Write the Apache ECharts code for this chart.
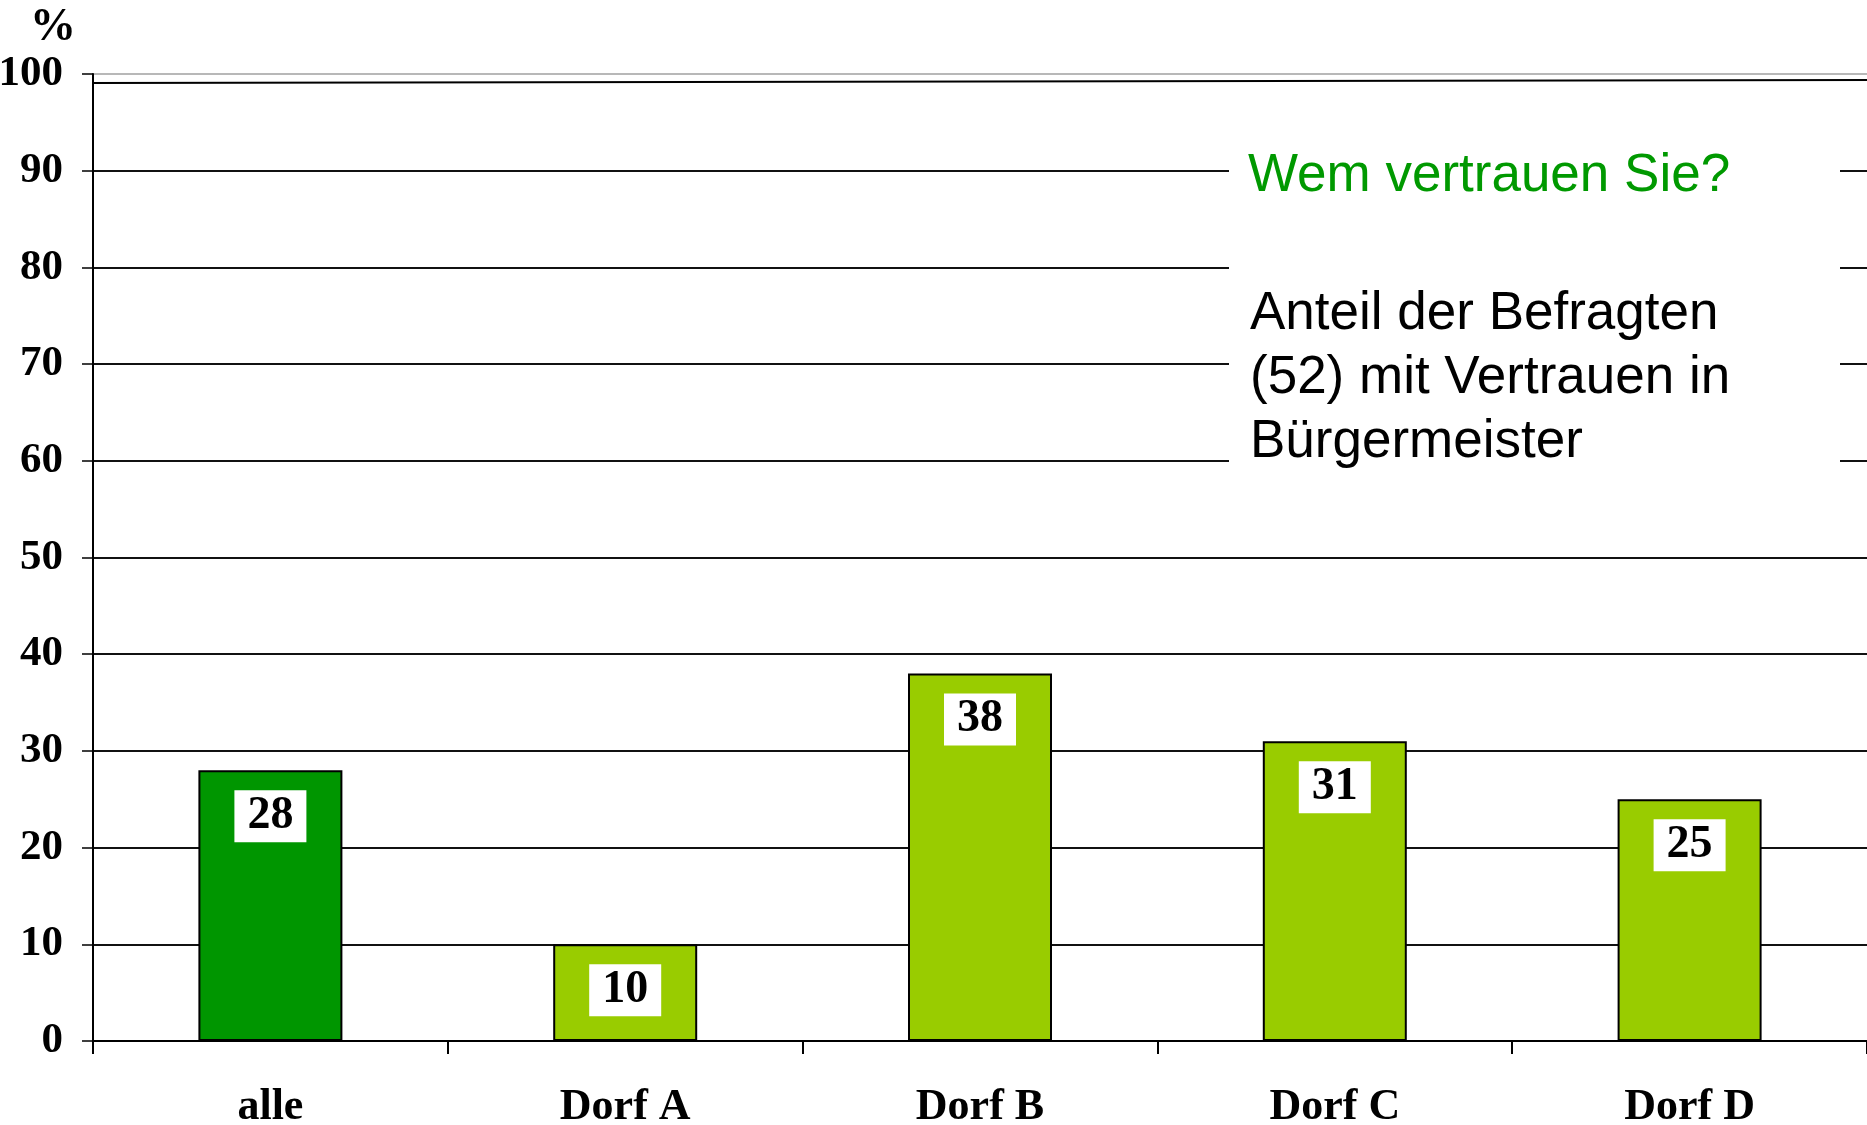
<!DOCTYPE html>
<html>
<head>
<meta charset="utf-8">
<script src="https://cdn.jsdelivr.net/npm/echarts@6/dist/echarts.min.js"></script>
<style>
  html, body { margin: 0; padding: 0; background: #fff; }
  #chart { width: 1867px; height: 1125px; }
</style>
</head>
<body>
<div id="chart"></div>
<script>
// Daten
var categories = ['alle', 'Dorf A', 'Dorf B', 'Dorf C', 'Dorf D'];
var values = [28, 10, 38, 31, 25];
var barColors = ['#009600', '#99cc00', '#99cc00', '#99cc00', '#99cc00'];
var yTicks = [0, 10, 20, 30, 40, 50, 60, 70, 80, 90, 100];

var chart = echarts.init(document.getElementById('chart'));

// Gitterlinien: oberste Linie grau
var gridColors = yTicks.map(function (t) { return t === 100 ? '#b8b8b8' : '#111'; });

var option = {
    animation: false,
    title: {
        text: '%',
        left: 25,
        top: 0,
        textStyle: { fontFamily: 'Liberation Serif', fontWeight: 'bold', fontSize: 46, color: '#000' }
    },
    grid: { left: 93, right: 0, top: 74, bottom: 84, outerBoundsMode: 'none', containLabel: false },
    xAxis: {
        type: 'category',
        data: categories,
        axisLine: { lineStyle: { color: '#000', width: 2 } },
        axisTick: { show: true, length: 13, lineStyle: { color: '#000', width: 2 } },
        axisLabel: {
            margin: 45,
            fontFamily: 'Liberation Serif', fontWeight: 'bold', fontSize: 44, color: '#000'
        }
    },
    yAxis: {
        type: 'value',
        min: 0,
        max: 100,
        interval: 10,
        axisLine: { show: true, lineStyle: { color: '#000', width: 2 } },
        axisTick: { show: true, length: 11, lineStyle: { color: '#000', width: 1.5 } },
        axisLabel: {
            margin: 30,
            fontFamily: 'Liberation Serif', fontWeight: 'bold', fontSize: 43, color: '#000'
        },
        splitLine: { lineStyle: { color: gridColors, width: 2 } }
    },
    series: [{
        type: 'bar',
        barWidth: 144,
        data: values.map(function (v, i) {
            return { value: v, itemStyle: { color: barColors[i] } };
        }),
        itemStyle: { borderColor: '#000', borderWidth: 2 },
        label: {
            show: true,
            position: 'insideTop',
            distance: 20,
            backgroundColor: '#fff',
            padding: [3, 13],
            fontFamily: 'Liberation Serif', fontWeight: 'bold', fontSize: 46, color: '#000'
        }
    }],
    graphic: [
        // schwarze Linie unter der 100er Linie
        { type: 'line', z: 5, shape: { x1: 93, y1: 83, x2: 1867, y2: 80 }, style: { stroke: '#000', lineWidth: 2 } },
        // Textfeld
        { type: 'rect', z: 10, shape: { x: 1229, y: 120, width: 611, height: 360 }, style: { fill: '#fff' } },
        {
            type: 'text', z: 11, left: 1248, top: 150,
            style: { text: 'Wem vertrauen Sie?', fill: '#009900', font: '53px "Liberation Sans"' }
        },
        {
            type: 'text', z: 11, left: 1250, top: 282,
            style: {
                text: 'Anteil der Befragten\n(52) mit Vertrauen in\nBürgermeister',
                fill: '#000', font: '53px "Liberation Sans"', lineHeight: 64
            }
        }
    ]
};

chart.setOption(option);
</script>
</body>
</html>
